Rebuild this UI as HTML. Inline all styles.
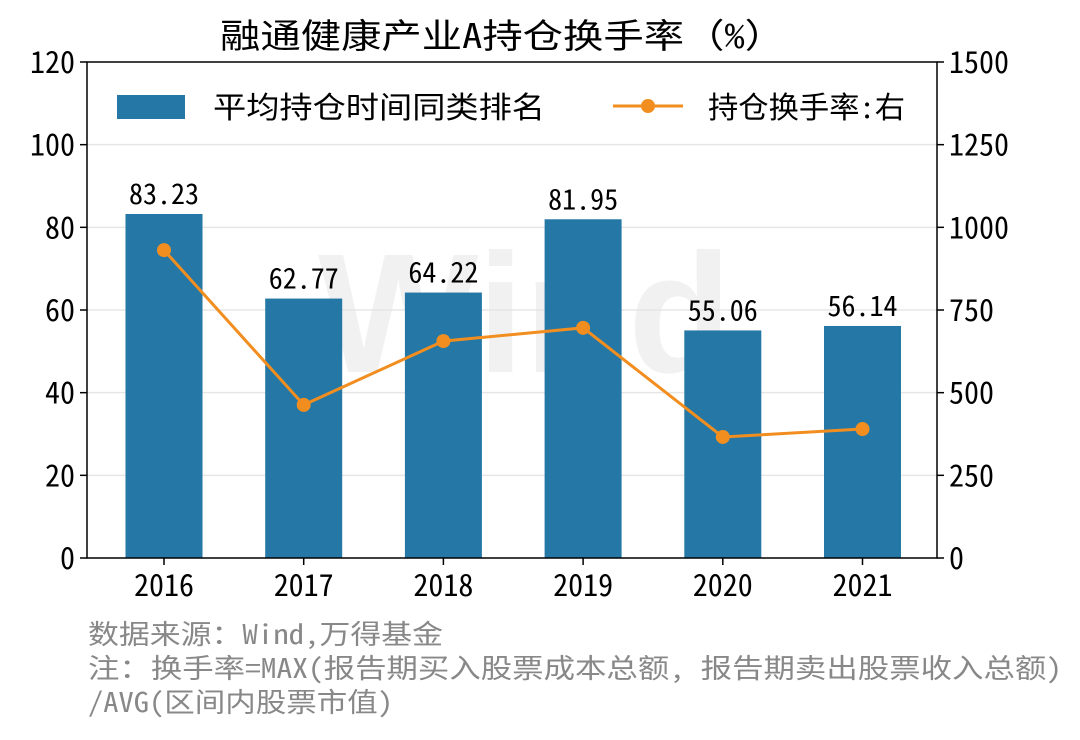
<!DOCTYPE html>
<html><head><meta charset="utf-8"><style>
body{margin:0;background:#fff;}
svg text{font-family:"Noto Sans Mono CJK SC","WenQuanYi Zen Hei Mono","Noto Sans CJK SC",sans-serif;}
</style></head><body>
<svg id="chart" width="1080" height="735" xmlns="http://www.w3.org/2000/svg">
<rect width="1080" height="735" fill="#fff"/>
<text x="220" y="48" font-size="34" textLength="565" lengthAdjust="spacingAndGlyphs" fill="#000">融通健康产业A持仓换手率（%）</text>
<text x="525" y="372" font-size="170" text-anchor="middle" fill="#f1f1f1" style="font-family:'Liberation Sans',sans-serif;font-weight:bold">Wind</text>
<g id="grid"></g>
<g id="bars"></g>
<g id="line"></g>
<g id="axes"></g>
<g>
<rect x="117" y="95" width="68" height="24" fill="#2577a5"/>
<text x="213" y="118" font-size="30" textLength="332" lengthAdjust="spacingAndGlyphs" fill="#000">平均持仓时间同类排名</text>
<line x1="613" y1="106" x2="683" y2="106" stroke="#f28e1f" stroke-width="3"/>
<circle cx="648" cy="106" r="7" fill="#f28e1f"/>
<text x="708" y="118" font-size="30" textLength="197" lengthAdjust="spacingAndGlyphs" fill="#000">持仓换手率:右</text>
</g>
<g fill="#888" font-size="27">
<text x="88" y="644" textLength="355" lengthAdjust="spacingAndGlyphs">数据来源：Wind,万得基金</text>
<text x="88" y="678" textLength="974" lengthAdjust="spacingAndGlyphs">注：换手率=MAX(报告期买入股票成本总额, 报告期卖出股票收入总额)</text>
<text x="88" y="712" textLength="305" lengthAdjust="spacingAndGlyphs">/AVG(区间内股票市值)</text>
</g>
</svg>
<script>
const categories=["2016","2017","2018","2019","2020","2021"];
const rankValues=[83.23,62.77,64.22,81.95,55.06,56.14];
const turnoverValues=[931,463,656,696,366,390];
const leftTicks=[0,20,40,60,80,100,120];
const rightTicks=[0,250,500,750,1000,1250,1500];
const NS="http://www.w3.org/2000/svg";
const L=87,R=937,T=62,B=558;
const yL=v=>B-(v/120)*(B-T);
const yR=v=>B-(v/1500)*(B-T);
const step=139.7;
const xC=i=>164+step*i;
function mk(tag,attrs,parent){const e=document.createElementNS(NS,tag);for(const k in attrs)e.setAttribute(k,attrs[k]);parent.appendChild(e);return e;}
const grid=document.getElementById('grid'),bars=document.getElementById('bars'),line=document.getElementById('line'),axes=document.getElementById('axes');
leftTicks.forEach((t,i)=>{
 const y=yL(t);
 if(t>0&&t<120){const g=mk('line',{x1:L,x2:R,y1:y,y2:y,stroke:'#e6e6e6','stroke-width':1.5},grid);
 
 }
 mk('line',{x1:L-7,x2:L,y1:y,y2:y,stroke:'#000','stroke-width':1.5},axes);
 const tx=mk('text',{x:L-12,y:y+11,'font-size':30,'text-anchor':'end'},axes);tx.textContent=t;
 
 
});
rightTicks.forEach(t=>{
 const y=yR(t);
 mk('line',{x1:R,x2:R+7,y1:y,y2:y,stroke:'#000','stroke-width':1.5},axes);
 const tx=mk('text',{x:R+12,y:y+11,'font-size':30},axes);tx.textContent=t;
 
 
});
categories.forEach((c,i)=>{
 const x=xC(i),w=77;
 const b=mk('rect',{x:x-w/2,y:yL(rankValues[i]),width:w,height:B-yL(rankValues[i]),fill:'#2577a5'},bars);
 
 
 const v=mk('text',{x:x,y:yL(rankValues[i])-10,'font-size':28,'text-anchor':'middle'},bars);v.textContent=rankValues[i].toFixed(2);
 
 
 mk('line',{x1:x,x2:x,y1:B,y2:B+7,stroke:'#000','stroke-width':1.5},axes);
 const tx=mk('text',{x:x,y:B+38,'font-size':30,'text-anchor':'middle'},axes);tx.textContent=c;
 
 
});
const pts=turnoverValues.map((v,i)=>xC(i)+','+yR(v)).join(' ');
const pl=mk('polyline',{points:pts,fill:'none',stroke:'#f28e1f','stroke-width':3},line);


turnoverValues.forEach((v,i)=>{const c=mk('circle',{cx:xC(i),cy:yR(v),r:7,fill:'#f28e1f'},line);
 
 });
const fr=mk('rect',{x:L,y:T,width:R-L,height:B-T,fill:'none',stroke:'#000','stroke-width':1.5},axes);


</script>
</body></html>
